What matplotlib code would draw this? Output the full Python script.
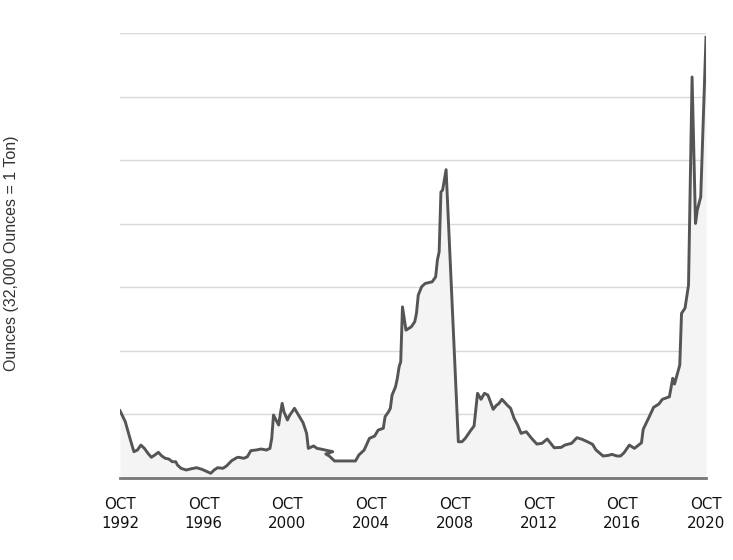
import pandas as pd
import numpy as np
import matplotlib.pyplot as plt

# month of each reading (one reading is out of order in the source, kept as is)
dates = ['1992-10', '1993-01', '1993-04', '1993-06', '1993-08', '1993-10', '1993-12',
         '1994-02', '1994-04', '1994-06', '1994-08', '1994-10', '1994-12', '1995-02',
         '1995-04', '1995-06', '1995-07', '1995-09', '1995-12', '1996-03', '1996-06',
         '1996-09', '1996-12', '1997-02', '1997-04', '1997-06', '1997-09', '1997-11',
         '1998-02', '1998-05', '1998-06', '1998-09', '1998-11', '1999-01', '1999-04',
         '1999-07', '1999-10', '1999-12', '2000-01', '2000-02', '2000-03', '2000-05',
         '2000-06', '2000-07', '2000-08', '2000-10', '2000-11', '2001-02', '2001-04',
         '2001-07', '2001-09', '2001-10', '2002-01', '2002-03', '2002-05', '2002-12',
         '2002-08', '2002-10', '2003-01', '2004-01', '2004-03', '2004-06', '2004-09',
         '2004-12', '2005-02', '2005-05', '2005-06', '2005-08', '2005-09', '2005-10',
         '2005-12', '2006-01', '2006-02', '2006-03', '2006-04', '2006-06', '2006-09',
         '2006-11', '2006-12', '2007-01', '2007-03', '2007-05', '2007-09', '2007-11',
         '2007-12', '2008-01', '2008-02', '2008-03', '2008-05', '2008-12', '2009-02',
         '2009-04', '2009-07', '2009-09', '2009-11', '2010-01', '2010-03', '2010-05',
         '2010-08', '2010-10', '2010-11', '2011-01', '2011-04', '2011-06', '2011-08',
         '2011-10', '2011-12', '2012-01', '2012-03', '2012-06', '2012-09', '2012-12',
         '2013-03', '2013-05', '2013-07', '2013-11', '2014-01', '2014-05', '2014-08',
         '2014-11', '2015-02', '2015-05', '2015-07', '2015-11', '2016-02', '2016-04',
         '2016-07', '2016-09', '2016-11', '2017-02', '2017-05', '2017-09', '2017-10',
         '2018-01', '2018-04', '2018-07', '2018-09', '2019-01', '2019-03', '2019-04',
         '2019-07', '2019-08', '2019-10', '2019-12', '2020-02', '2020-04', '2020-05',
         '2020-07', '2020-10']

# millions of ounces
ounces = [5.29, 4.43, 2.99, 2.07, 2.20, 2.59, 2.33,
          1.94, 1.63, 1.81, 2.02, 1.73, 1.55, 1.49,
          1.28, 1.28, 1.02, 0.76, 0.63, 0.73, 0.81,
          0.68, 0.50, 0.37, 0.63, 0.81, 0.76, 0.94,
          1.36, 1.60, 1.63, 1.55, 1.67, 2.15, 2.20,
          2.28, 2.20, 2.33, 3.12, 4.95, 4.69, 4.17,
          5.09, 5.87, 5.21, 4.56, 4.87, 5.48, 5.03,
          4.35, 3.51, 2.33, 2.52, 2.33, 2.28, 2.07,
          1.89, 1.73, 1.34, 1.34, 1.81, 2.20, 3.12,
          3.30, 3.77, 3.91, 4.82, 5.21, 5.48, 6.52,
          7.18, 7.84, 8.75, 9.14, 13.46, 11.63, 11.89,
          12.29, 12.95, 14.38, 15.04, 15.30, 15.43, 15.82,
          17.13, 17.79, 22.50, 22.64, 24.25, 2.85, 2.85,
          3.12, 3.72, 4.09, 6.66, 6.19, 6.66, 6.52,
          5.40, 5.74, 5.82, 6.19, 5.74, 5.48, 4.69,
          4.17, 3.51, 3.56, 3.64, 3.12, 2.67, 2.73,
          3.07, 2.73, 2.38, 2.41, 2.59, 2.73, 3.17,
          3.04, 2.85, 2.65, 2.20, 1.73, 1.78, 1.86,
          1.73, 1.73, 1.99, 2.59, 2.33, 2.77, 3.83,
          4.69, 5.56, 5.82, 6.19, 6.39, 7.84, 7.39,
          8.88, 12.95, 13.36, 15.17, 31.54, 20.02, 21.06,
          22.11, 34.66]

tick_years = [1992, 1996, 2000, 2004, 2008, 2012, 2016, 2020]

x = pd.to_datetime(dates)
y = np.array(ounces)

fig = plt.figure(figsize=(7.33, 5.6), dpi=100)
ax = fig.add_axes([120 / 733, 1 - 478 / 560, 586 / 733, 445 / 560])

ax.fill_between(x, y, 0, color='#f4f4f4', linewidth=0, zorder=1)
ax.plot(x, y, color='#555555', linewidth=2.1, solid_joinstyle='round', zorder=3)

ax.set_xlim(pd.Timestamp('1992-10-01'), pd.Timestamp('2020-10-01'))
ax.set_ylim(0, 35)

ax.set_yticks(np.arange(0, 36, 5))
ax.yaxis.grid(True, color='#d9d9d9', linewidth=1.0, zorder=0)
ax.set_axisbelow(True)
ax.tick_params(axis='y', length=0, labelleft=False)

ticks = [pd.Timestamp(f'{yr}-10-01') for yr in tick_years]
ax.set_xticks(ticks)
ax.set_xticklabels([f'OCT\n{yr}' for yr in tick_years], fontsize=10.8,
                   color='#111111', family='DejaVu Sans', linespacing=1.3)
ax.tick_params(axis='x', length=0, pad=14)

for side in ['top', 'right', 'left']:
    ax.spines[side].set_visible(False)
ax.spines['bottom'].set_color('#777777')
ax.spines['bottom'].set_linewidth(2.0)
ax.spines['bottom'].set_zorder(4)

fig.text(12 / 733, 1 - 253 / 560, 'Ounces (32,000 Ounces = 1 Ton)', rotation=90,
         ha='center', va='center', fontsize=11.5, color='#333333',
         family='Liberation Sans')

fig.savefig('out.png', dpi=100)
